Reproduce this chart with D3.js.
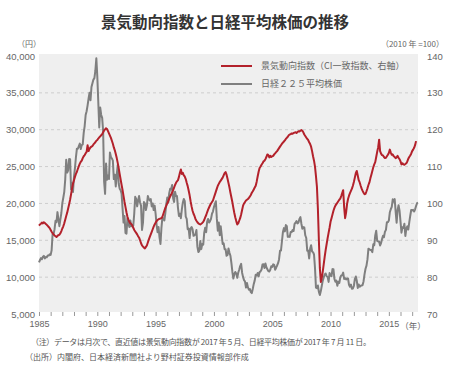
<!DOCTYPE html>
<html>
<head>
<meta charset="utf-8">
<script src="https://cdn.jsdelivr.net/npm/d3@7"></script>
<style>
  body { margin: 0; background: #fff; }
  svg { display: block; font-family: "Noto Sans CJK JP", "Noto Sans", sans-serif; }
</style>
</head>
<body>
<div id="chart"></div>
<script>
const startYear = 1985;

// 日経225 月次 (1985年1月〜2017年7月)
const nikkeiValues = [
  11990, 12320, 12580, 12430, 12760, 12880, 12540, 12740, 12700, 12940, 12930, 13110,
  13020, 13640, 15860, 15830, 16500, 17650, 17460, 18820, 17850, 16910, 17850, 18700,
  20020, 20770, 21570, 23270, 25930, 24180, 24490, 26030, 26010, 21910, 22690, 21560,
  23620, 24800, 26260, 27430, 27420, 27770, 28120, 27370, 27920, 28000, 29580, 30500,
  32000, 32500, 33300, 34200, 35000, 34000, 35800, 36300, 36800, 37000, 38000, 39700,
  37200, 33800, 30300, 33000, 32000, 31600, 29800, 23000, 21300, 25400, 23200, 23800,
  23300, 26900, 26300, 26100, 25800, 23300, 23900, 22300, 23900, 25200, 22700, 22000,
  21800, 21300, 19300, 17400, 18300, 16000, 15900, 18000, 17400, 16800, 17700, 16900,
  17000, 17000, 18600, 20900, 20600, 19600, 20400, 21000, 20100, 19700, 16400, 17400,
  20200, 20000, 19100, 19700, 21000, 20600, 20400, 20600, 19600, 20000, 19100, 19700,
  18600, 17100, 16100, 16800, 15400, 14500, 16700, 18100, 17900, 17700, 18700, 19900,
  20800, 20100, 21400, 22000, 21900, 22500, 20700, 20200, 21600, 21000, 21000, 19400,
  18300, 18600, 18000, 19200, 20100, 20600, 20300, 18200, 17900, 16500, 16600, 15300,
  16600, 16800, 16500, 15600, 15700, 15800, 16400, 14100, 13400, 13600, 14900, 13800,
  14500, 14400, 16000, 16700, 16100, 17500, 17900, 17400, 17600, 17900, 18600, 18900,
  19500, 19900, 20300, 17900, 16300, 17400, 15700, 16900, 15700, 14500, 14600, 13800,
  13800, 12900, 13000, 13900, 13300, 12900, 11900, 10700, 9800, 10400, 10700, 10500,
  9900, 10600, 11000, 11500, 11800, 10600, 10000, 9600, 9400, 8600, 9200, 8600,
  8300, 8400, 7970, 7830, 8420, 9080, 9560, 10340, 10220, 10560, 10100, 10680,
  10780, 11040, 11720, 11760, 11240, 11860, 11330, 11080, 10820, 10770, 11000, 11490,
  11390, 11740, 11670, 11010, 11280, 11580, 11900, 12410, 13570, 13610, 14870, 16110,
  16650, 16210, 17060, 16910, 15470, 15510, 15460, 16140, 16130, 16400, 16270, 17230,
  17380, 17600, 17290, 17400, 17880, 18140, 17250, 16570, 16790, 16740, 15680, 15310,
  13590, 13600, 12530, 13850, 14340, 13480, 13380, 13070, 11260, 8580, 8510, 8860,
  7990, 7570, 8110, 8830, 9520, 9960, 10360, 10490, 10130, 10030, 9350, 10550,
  10200, 10130, 11090, 11060, 9770, 9380, 9540, 8820, 9370, 9200, 9940, 10230,
  10240, 10620, 9760, 9850, 9690, 9820, 9830, 8960, 8700, 8990, 8430, 8460,
  8800, 9720, 10080, 9520, 8540, 9010, 8700, 8840, 8870, 8930, 9450, 10400,
  11140, 11560, 12400, 13860, 13770, 13680, 13670, 13390, 14460, 14330, 15660, 16290,
  14910, 14840, 14830, 14300, 14630, 15160, 15620, 15420, 16170, 16410, 17460, 17450,
  17670, 18800, 19210, 19520, 20560, 20240, 20590, 18890, 17390, 19080, 19750, 19030,
  17520, 16030, 16760, 16670, 17230, 15580, 16570, 16890, 16450, 17430, 18310, 19110,
  19040, 19120, 18910, 19200, 19650, 20030, 20100
];

// 景気動向指数 CI一致指数 月次 (1985年1月〜2017年5月, 2010年=100)
const ciValues = [
  94.0, 94.3, 94.5, 94.8, 94.6, 94.9, 94.7, 94.4, 94.2, 93.9, 93.6, 93.3,
  92.8, 92.3, 91.9, 91.6, 91.3, 91.1, 90.9, 91.2, 91.4, 91.5, 91.9, 92.5,
  93.2, 93.8, 94.6, 95.6, 96.6, 97.5, 98.6, 99.8, 101.0, 102.5, 104.0, 105.4,
  106.3, 107.2, 108.0, 108.6, 109.4, 110.1, 110.8, 111.3, 111.6, 112.3, 112.8, 113.1,
  113.6, 114.0, 115.8, 114.2, 114.8, 115.2, 115.4, 115.6, 116.0, 116.3, 116.6, 117.0,
  117.2, 117.6, 117.9, 118.2, 118.5, 118.8, 119.3, 119.8, 120.1, 120.4, 120.2, 119.6,
  119.0, 118.4, 117.8, 117.0, 116.2, 115.2, 114.4, 113.4, 112.3, 111.0, 109.6, 108.0,
  106.5, 105.0, 103.6, 102.0, 100.4, 99.0, 97.6, 96.4, 95.6, 95.0, 94.6, 94.4,
  94.0, 93.4, 92.8, 92.4, 92.0, 91.6, 91.1, 90.7, 90.0, 89.2, 88.6, 88.3,
  88.0, 87.8, 88.2, 88.6, 89.4, 90.2, 90.9, 91.6, 92.3, 93.0, 93.7, 94.3,
  94.8, 95.2, 95.5, 95.7, 95.8, 95.9, 96.0, 96.4, 97.2, 98.0, 98.8, 99.4,
  100.0, 100.6, 101.3, 101.9, 102.4, 103.0, 103.6, 104.3, 105.0, 105.6, 106.0, 106.3,
  107.2, 108.3, 109.2, 108.0, 108.3, 107.6, 107.3, 106.6, 105.6, 104.7, 103.5, 102.2,
  100.6, 99.2, 98.0, 97.2, 96.6, 95.8, 95.3, 94.9, 94.6, 94.4, 94.3, 94.5,
  94.7, 95.0, 95.5, 96.2, 96.8, 97.6, 98.3, 98.9, 99.5, 100.0, 100.4, 100.8,
  101.6, 102.4, 103.2, 104.0, 104.8, 105.3, 105.8, 106.2, 106.6, 107.0, 107.6, 108.2,
  108.5, 107.8, 106.7, 105.5, 104.3, 102.9, 101.6, 100.3, 98.8, 97.4, 96.2, 95.2,
  94.3, 94.6, 95.3, 96.0, 97.0, 98.2, 99.4, 100.0, 100.4, 100.8, 101.0, 101.2,
  101.5, 101.9, 102.3, 102.9, 103.3, 103.8, 104.3, 104.8, 105.9, 107.3, 108.6, 109.6,
  110.0, 110.5, 110.9, 111.4, 111.6, 112.0, 112.6, 113.3, 113.1, 112.5, 112.9, 112.6,
  112.8, 112.9, 113.3, 113.6, 113.9, 114.2, 114.6, 115.0, 115.4, 115.8, 116.2, 116.5,
  116.8, 117.1, 117.5, 117.8, 118.1, 118.5, 118.7, 118.8, 119.0, 118.9, 119.1, 119.2,
  119.3, 119.1, 119.4, 119.6, 119.5, 119.7, 119.9, 119.7, 119.3, 118.7, 118.3, 117.9,
  117.5, 117.2, 116.6, 116.1, 115.4, 114.2, 112.8, 111.6, 110.0, 107.4, 104.5, 98.5,
  90.0, 82.5, 78.7, 79.8, 81.5, 83.5, 85.6, 87.4, 89.0, 90.6, 92.0, 93.4,
  95.0, 96.0, 97.0, 98.0, 98.8, 99.4, 99.8, 100.2, 100.6, 101.0, 101.3, 102.0,
  102.8, 103.6, 99.0, 96.0, 97.5, 99.8, 101.2, 102.1, 102.8, 103.4, 104.0, 104.8,
  105.8, 107.0, 108.2, 108.8, 107.6, 106.3, 105.7, 104.8, 104.0, 103.4, 102.9, 102.5,
  102.6, 103.3, 104.1, 105.0, 105.7, 106.8, 107.8, 108.8, 109.8, 110.6, 111.2, 112.6,
  114.0, 115.2, 117.3, 114.2, 113.5, 113.1, 113.0, 112.6, 112.3, 112.4, 112.8, 113.2,
  113.7, 114.6, 113.8, 113.2, 113.3, 112.8, 112.6, 112.3, 112.5, 112.9, 112.4, 112.0,
  111.4, 110.6, 110.9, 110.6, 110.5, 110.7, 110.9, 111.4, 112.1, 112.6, 113.0, 113.5,
  114.2, 114.6, 115.1, 115.8, 116.9
];

const yearLabels = [1985, 1990, 1995, 2000, 2005, 2010, 2015];
const leftTicks = [5000, 10000, 15000, 20000, 25000, 30000, 35000, 40000];
const rightTicks = [70, 80, 90, 100, 110, 120, 130, 140];
const legendItems = [
  { label: '景気動向指数（CI一致指数、右軸）', color: '#b3212b' },
  { label: '日経２２５平均株価', color: '#7f7f7f' }
];
const notes = [
  '（注）データは月次で、直近値は景気動向指数が 2017 年 5 月、日経平均株価が 2017 年 7 月 11 日。',
  '（出所）内閣府、日本経済新聞社より野村証券投資情報部作成'
];

const width = 450, height = 373;
const plot = { left: 39, right: 418, top: 54, bottom: 312 };

const svg = d3.select('#chart').append('svg')
  .attr('width', width)
  .attr('height', height);

svg.append('rect').attr('width', width).attr('height', height).attr('fill', '#fff');

svg.append('text')
  .attr('x', 225).attr('y', 28)
  .attr('text-anchor', 'middle')
  .attr('font-size', 15.5)
  .attr('font-weight', 'bold')
  .attr('fill', '#333')
  .text('景気動向指数と日経平均株価の推移');

const x = d3.scaleLinear().domain([1985, 2017.5]).range([plot.left, plot.right]);
const yLeft = d3.scaleLinear().domain([5000, 40000]).range([314, 56]);
const yRight = d3.scaleLinear().domain([70, 140]).range([314, 56]);

svg.append('rect')
  .attr('x', plot.left).attr('y', plot.top)
  .attr('width', plot.right - plot.left)
  .attr('height', plot.bottom - plot.top)
  .attr('fill', '#efefef');

svg.append('g')
  .selectAll('line')
  .data(leftTicks.filter(d => d > 5000 && d < 40000))
  .join('line')
  .attr('x1', plot.left).attr('x2', plot.right)
  .attr('y1', d => yLeft(d)).attr('y2', d => yLeft(d))
  .attr('stroke', '#cdcdcd')
  .attr('stroke-dasharray', '3,3');

const leftAxis = svg.append('g')
  .attr('transform', `translate(${plot.left},0)`)
  .call(d3.axisLeft(yLeft).tickValues(leftTicks).tickSize(0).tickPadding(4).tickFormat(d3.format(',')));
leftAxis.select('.domain').remove();
leftAxis.selectAll('text').attr('font-size', 9.5).attr('fill', '#666').attr('font-family', null);

const rightAxis = svg.append('g')
  .attr('transform', `translate(${plot.right},0)`)
  .call(d3.axisRight(yRight).tickValues(rightTicks).tickSize(0).tickPadding(9));
rightAxis.select('.domain').remove();
rightAxis.selectAll('text').attr('font-size', 9.5).attr('fill', '#666').attr('font-family', null);

const years = d3.range(1985, 2018);
const bottomAxis = svg.append('g')
  .attr('transform', `translate(0,${plot.bottom})`)
  .call(d3.axisBottom(x).tickValues(years).tickSize(4).tickPadding(2).tickFormat(d => yearLabels.includes(d) ? d : ''));
bottomAxis.select('.domain').remove();
bottomAxis.selectAll('line').attr('stroke', '#999');
bottomAxis.selectAll('text').attr('font-size', 9).attr('fill', '#666').attr('font-family', null).attr('dy', '1.05em');

svg.append('text')
  .attr('x', 413).attr('y', 328.5)
  .attr('text-anchor', 'middle')
  .attr('font-size', 8.5).attr('fill', '#666')
  .text('（年）');

svg.append('text')
  .attr('x', 29).attr('y', 47)
  .attr('text-anchor', 'middle')
  .attr('font-size', 8).attr('fill', '#666')
  .text('（円）');

svg.append('text')
  .attr('x', 444).attr('y', 47)
  .attr('text-anchor', 'end')
  .attr('font-size', 8).attr('fill', '#666')
  .text('（2010 年 =100）');

const monthX = i => x(startYear + i / 12);

const nikkeiLine = d3.line()
  .x((d, i) => monthX(i))
  .y(d => yLeft(d));

const ciLine = d3.line()
  .x((d, i) => monthX(i))
  .y(d => yRight(d));

svg.append('path')
  .datum(nikkeiValues)
  .attr('d', nikkeiLine)
  .attr('fill', 'none')
  .attr('stroke', legendItems[1].color)
  .attr('stroke-width', 2)
  .attr('stroke-linejoin', 'round');

svg.append('path')
  .datum(ciValues)
  .attr('d', ciLine)
  .attr('fill', 'none')
  .attr('stroke', legendItems[0].color)
  .attr('stroke-width', 2)
  .attr('stroke-linejoin', 'round');

const legend = svg.selectAll('.legend')
  .data(legendItems)
  .join('g')
  .attr('class', 'legend')
  .attr('transform', (d, i) => `translate(221,${66 + i * 18})`);

legend.append('line')
  .attr('x1', 0).attr('x2', 31)
  .attr('stroke', d => d.color)
  .attr('stroke-width', 2);

legend.append('text')
  .attr('x', 40)
  .attr('dy', '0.35em')
  .attr('font-size', 9)
  .attr('fill', '#666')
  .text(d => d.label);

svg.selectAll('.note')
  .data(notes)
  .join('text')
  .attr('class', 'note')
  .attr('x', (d, i) => i === 0 ? 31 : 25)
  .attr('y', (d, i) => 345 + i * 15)
  .attr('font-size', 8)
  .attr('fill', '#555')
  .attr('textLength', (d, i) => i === 0 ? 340 : null)
  .attr('lengthAdjust', 'spacing')
  .text(d => d);
</script>
</body>
</html>
